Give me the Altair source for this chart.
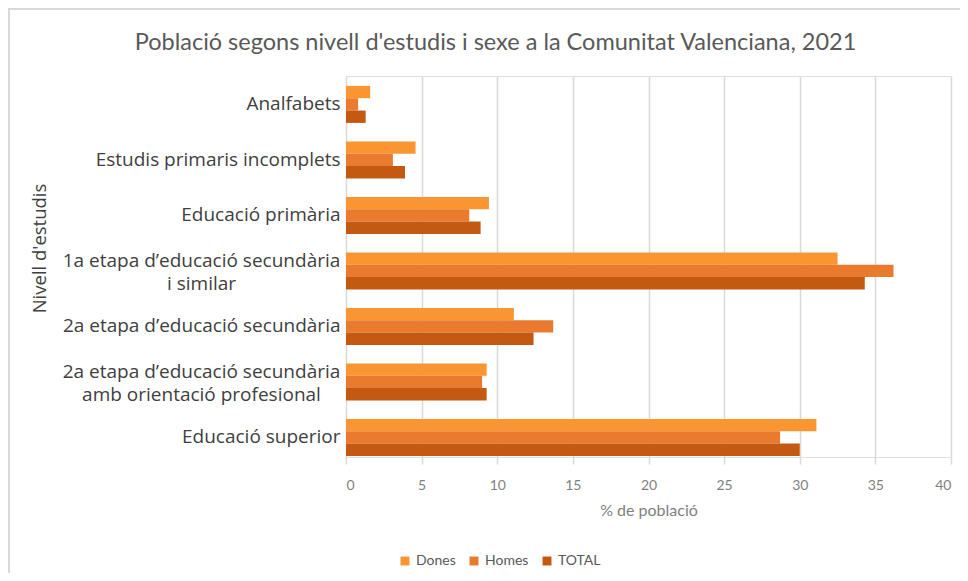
import altair as alt
import pandas as pd

categories = [
    "Analfabets",
    "Estudis primaris incomplets",
    "Educació primària",
    "1a etapa d’educació secundària|i similar",
    "2a etapa d’educació secundària",
    "2a etapa d’educació secundària|amb orientació profesional",
    "Educació superior",
]
series = ["Dones", "Homes", "TOTAL"]
dones = [1.6, 4.6, 9.45, 32.5, 11.1, 9.3, 31.1]
homes = [0.8, 3.1, 8.15, 36.2, 13.7, 9.0, 28.7]
total = [1.3, 3.9, 8.9, 34.3, 12.4, 9.3, 30.0]
colors = ["#FA9632", "#EA7A2E", "#C45911"]
x_ticks = [0, 5, 10, 15, 20, 25, 30, 35, 40]

rows = []
for i, c in enumerate(categories):
    for s, vals in zip(series, [dones, homes, total]):
        rows.append({"nivell": c, "serie": s, "valor": vals[i]})
df = pd.DataFrame(rows)

W, H = 605, 381
multi = "indexof(datum.value, '|') >= 0"

bars = alt.Chart(df).mark_bar().encode(
    x=alt.X(
        "valor:Q",
        scale=alt.Scale(domain=[0, 40], nice=False),
        axis=alt.Axis(
            values=x_ticks,
            grid=True,
            gridColor="#D9D9D9",
            gridWidth=1.5,
            domain=False,
            ticks=True,
            tickColor="#D9D9D9",
            tickWidth=1.5,
            tickSize=7,
            labelFont="Lato",
            labelFontSize=14,
            labelColor="#7F7F7F",
            labelPadding=14,
            title="% de població",
            titleFont="Lato",
            titleFontSize=16,
            titleFontWeight="normal",
            titleColor="#7F7F7F",
            titlePadding=10,
        ),
    ),
    y=alt.Y(
        "nivell:N",
        sort=categories,
        scale=alt.Scale(paddingInner=0.333, paddingOuter=0.099, align=0.9),
        axis=alt.Axis(
            labelExpr="split(datum.label, '|')",
            labelFont="Open Sans",
            labelFontSize=19,
            labelColor="#404040",
            labelLineHeight=23,
            labelPadding={"condition": {"test": multi, "value": 145}, "value": 6},
            labelAlign={"condition": {"test": multi, "value": "center"}, "value": "right"},
            labelOffset={"condition": {"test": multi, "value": -10}, "value": 0},
            labelLimit=400,
            ticks=False,
            domain=False,
            title="Nivell d'estudis",
            titleFont="Open Sans",
            titleFontSize=18.5,
            titleFontWeight="normal",
            titleColor="#404040",
            titleAngle=270,
            titleX=-297,
            titleY=172,
        ),
    ),
    yOffset=alt.YOffset("serie:N", sort=series),
    color=alt.Color(
        "serie:N",
        sort=series,
        scale=alt.Scale(domain=series, range=colors),
        legend=alt.Legend(
            orient="none",
            legendX=52,
            legendY=478,
            direction="horizontal",
            title=None,
            symbolType="square",
            symbolSize=80,
            symbolStrokeWidth=0,
            labelFont="Lato",
            labelFontSize=14,
            labelColor="#595959",
            columnPadding=11,
        ),
    ),
)

border = alt.Chart(pd.DataFrame({"a": [0]})).mark_rect(
    fillOpacity=0, stroke="#D9D9D9", strokeWidth=2
).encode(
    x=alt.value(-337), x2=alt.value(W + 40), y=alt.value(-67), y2=alt.value(H + 220)
)

chart = alt.layer(border, bars).properties(
    width=W,
    height=H,
    autosize=alt.AutoSizeParams(type="none"),
    padding={"left": 338, "top": 68, "right": 9, "bottom": 116},
    title=alt.TitleParams(
        "Població segons nivell d'estudis i sexe a la Comunitat Valenciana, 2021",
        font="Lato",
        fontSize=23.5,
        fontWeight="normal",
        color="#595959",
        anchor="middle",
        frame="group",
        dx=-153,
        dy=50,
    ),
).configure_view(stroke=None).configure(background="white")

chart.save("out.html", embed_options={"renderer": "svg", "actions": False})
